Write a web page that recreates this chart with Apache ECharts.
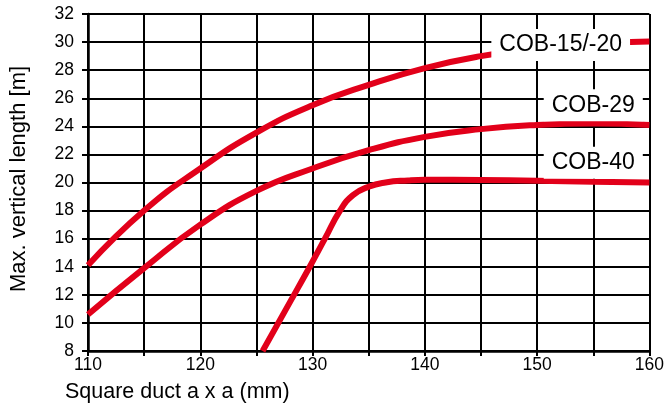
<!DOCTYPE html>
<html>
<head>
<meta charset="utf-8">
<script src="https://cdn.jsdelivr.net/npm/echarts@6/dist/echarts.min.js"></script>
<style>
html,body{margin:0;padding:0;background:#fff;}
#chart{width:667px;height:408px;}
</style>
</head>
<body>
<div id="chart"></div>
<script>
// ---- data ----
var seriesNames = ['COB-15/-20', 'COB-29', 'COB-40'];
var cob15x = [110, 115, 120, 125, 130, 135, 140, 145, 150, 155, 160];
var cob15y = [14.1, 18.0, 21.0, 23.55, 25.5, 26.95, 28.15, 29.0, 29.55, 29.9, 30.05];
var cob29x = [110, 115, 120, 125, 130, 135, 140, 145, 150, 155, 160];
var cob29y = [10.6, 13.9, 17.0, 19.4, 21.0, 22.3, 23.25, 23.8, 24.1, 24.2, 24.1];
var cob40x = [125.55, 127.65, 129.75, 131.1, 132.45, 133.6, 135, 136.5, 138.5, 140, 145, 150, 155, 160];
var cob40y = [8, 11, 14, 16, 18, 19.1, 19.7, 20.0, 20.15, 20.2, 20.18, 20.12, 20.05, 20.0];
var xTickLabels = [110, 120, 130, 140, 150, 160];
var yTickLabels = [8, 10, 12, 14, 16, 18, 20, 22, 24, 26, 28, 30, 32];
// label anchor points (data coordinates) for the curve names
var labelAnchorX = [152.1, 155.0, 155.0];
var labelAnchorY = [29.8, 25.5, 21.4];

function zip(xs, ys) { return xs.map(function (x, i) { return [x, ys[i]]; }); }

var RED = '#e2001a';
var FONT = 'Arial, "Liberation Sans", sans-serif';

var chart = echarts.init(document.getElementById('chart'), null, {renderer: 'canvas'});

function lineSeries(name, data, smooth) {
  return {
    name: name, type: 'line', data: data, smooth: smooth,
    showSymbol: false, symbol: 'none', z: 3,
    lineStyle: {color: RED, width: 6, cap: 'butt'},
    clip: true, silent: true
  };
}

var option = {
  animation: false,
  backgroundColor: '#fff',
  grid: {left: 88, right: 16, top: 14, bottom: 57, containLabel: false},
  xAxis: {
    type: 'value', min: 110, max: 160, interval: 5,
    axisLine: {show: true, onZero: false, lineStyle: {color: '#000', width: 2.5}},
    axisTick: {show: true, inside: false, length: 5, lineStyle: {color: '#000', width: 2}},
    splitLine: {show: true, lineStyle: {color: '#000', width: 2}},
    axisLabel: {
      margin: 5, color: '#000', fontSize: 17.5, fontFamily: FONT,
      formatter: function (v) { return xTickLabels.indexOf(v) >= 0 ? String(v) : ''; }
    }
  },
  yAxis: {
    type: 'value', min: 8, max: 32, interval: 2,
    axisLine: {show: true, onZero: false, lineStyle: {color: '#000', width: 2.5}},
    axisTick: {show: true, inside: false, length: 6, lineStyle: {color: '#000', width: 2}},
    splitLine: {show: true, lineStyle: {color: '#000', width: 2}},
    axisLabel: {
      margin: 14, color: '#000', fontSize: 17.5, fontFamily: FONT,
      formatter: function (v) { return yTickLabels.indexOf(v) >= 0 ? String(v) : ''; }
    }
  },
  graphic: [
    {type: 'text', left: 65, top: 381, z: 10,
     style: {text: 'Square duct a x a (mm)', fill: '#000', font: '21.5px ' + FONT}},
    {type: 'text', x: 19, y: 179, rotation: Math.PI / 2, z: 10,
     style: {text: 'Max. vertical length [m]', fill: '#000', font: '22px ' + FONT,
             textAlign: 'center', textVerticalAlign: 'middle'}}
  ],
  series: [
    lineSeries(seriesNames[0], zip(cob15x, cob15y), 0.5),
    lineSeries(seriesNames[1], zip(cob29x, cob29y), 0.5),
    lineSeries(seriesNames[2], zip(cob40x, cob40y), 0.5),
    {
      type: 'scatter', z: 10, symbolSize: 0, silent: true,
      itemStyle: {opacity: 1},
      data: seriesNames.map(function (n, i) {
        return {value: [labelAnchorX[i], labelAnchorY[i]], name: n};
      }),
      label: {
        show: true, position: 'inside', formatter: '{b}',
        color: '#000', fontSize: 23, fontFamily: FONT,
        backgroundColor: '#fff', padding: [5, 8, 4, 8]
      }
    }
  ]
};
chart.setOption(option);
</script>
</body>
</html>
